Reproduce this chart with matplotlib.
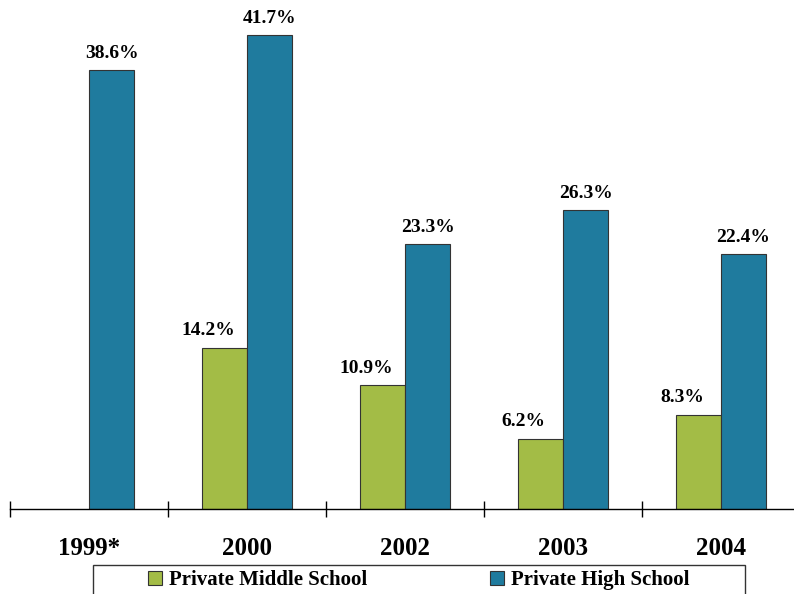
import numpy as np
import matplotlib.pyplot as plt
from matplotlib.patches import Rectangle

years = ["1999*", "2000", "2002", "2003", "2004"]
middle_school = [np.nan, 14.2, 10.9, 6.2, 8.3]
high_school = [38.6, 41.7, 23.3, 26.3, 22.4]

green = "#A3BC46"
blue = "#1F7B9E"
plt.rcParams["font.family"] = ["Liberation Serif", "DejaVu Serif"]
plt.rcParams["font.weight"] = "bold"

W, H = 794, 594
fig = plt.figure(figsize=(W / 100, H / 100), dpi=100)
# axes: left edge 10px, baseline at 509px from top
ax = fig.add_axes([10 / W, (H - 509) / H, 790 / W, 509 / H])

x = np.arange(len(years))
bw = 0.285
b1 = ax.bar(x - bw / 2, middle_school, bw, color=green, edgecolor="#333333", linewidth=0.8)
b2 = ax.bar(x + bw / 2, high_school, bw, color=blue, edgecolor="#333333", linewidth=0.8)

# green labels sit a bit left of their bars in the original
for bars, vals, dx in [(b1, middle_school, -12), (b2, high_school, 0)]:
    for rect, v in zip(bars, vals):
        if np.isnan(v):
            continue
        ax.annotate(f"{v:.1f}%", (rect.get_x() + rect.get_width() / 2, v),
                    xytext=(dx, 6), textcoords="offset points",
                    ha="center", va="bottom", fontsize=14, fontweight="bold")

ax.set_xlim(-0.5, len(years) - 0.5)
ax.set_ylim(0, 509 / 11.37)
for s in ["top", "right", "left"]:
    ax.spines[s].set_visible(False)
ax.spines["bottom"].set_linewidth(1.0)
ax.set_yticks([])

# boundary ticks crossing the axis, labels at category centers
ax.set_xticks(np.arange(len(years) + 1) - 0.5)
ax.set_xticklabels([])
ax.tick_params(axis="x", which="major", direction="inout", length=11, width=1.0)
ax.set_xticks(x, minor=True)
ax.set_xticklabels(years, minor=True, fontsize=18, fontweight="bold")
ax.tick_params(axis="x", which="minor", length=0, pad=20)

# legend frame (bottom edge runs off the figure)
fig.patches.append(Rectangle((93 / W, -0.02), (745 - 93) / W, (H - 565) / H + 0.02,
                             transform=fig.transFigure, fill=False,
                             edgecolor="#333333", linewidth=1.0))
fig.legend([b1, b2], ["Private Middle School", "Private High School"],
           loc="center", bbox_to_anchor=(419 / W, (H - 580) / H), ncol=2,
           frameon=False, handlelength=0.65, handleheight=0.65,
           handletextpad=0.35, columnspacing=5.9,
           prop={"family": ["Liberation Serif"], "weight": "bold", "size": 15})

fig.savefig("out.png", dpi=100)
